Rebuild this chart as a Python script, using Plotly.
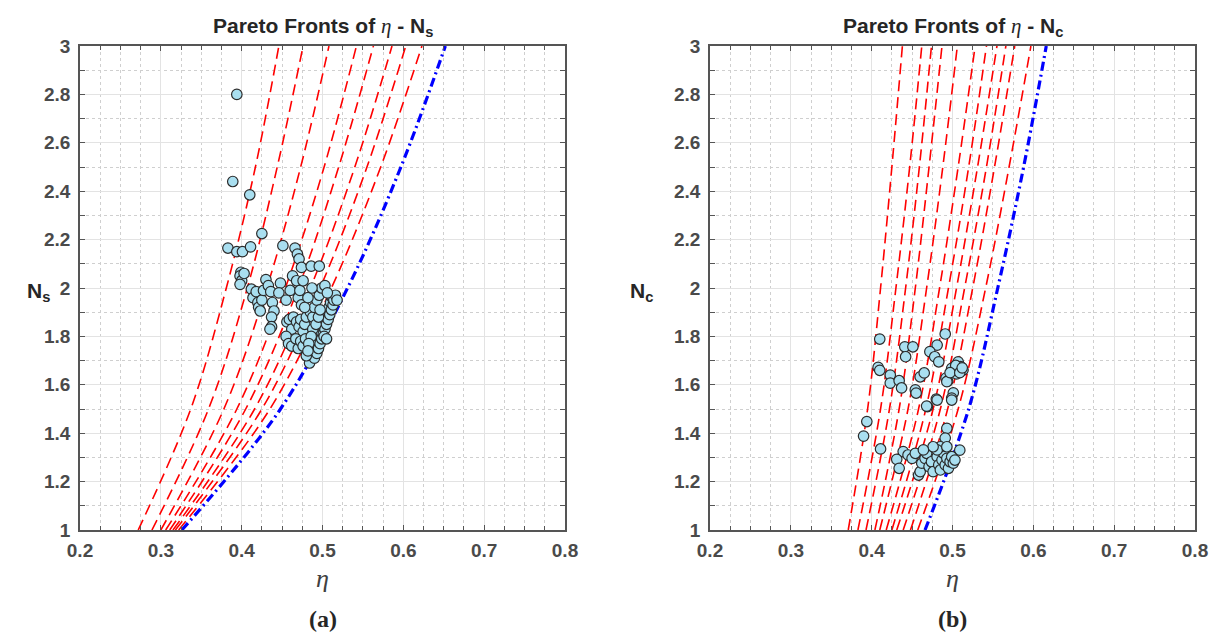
import plotly.graph_objects as go

# ---------------- data ----------------
CURVE_N = [1.0, 1.5, 2.0, 2.5, 3.0]

# (a) eta - Ns : red dashed fronts (eta at each CURVE_N)
fronts_a = [
    [0.272, 0.337, 0.381, 0.417, 0.446],
    [0.289, 0.359, 0.407, 0.444, 0.476],
    [0.300, 0.378, 0.431, 0.473, 0.508],
    [0.306, 0.394, 0.454, 0.502, 0.542],
    [0.311, 0.405, 0.470, 0.520, 0.563],
    [0.315, 0.416, 0.485, 0.540, 0.586],
    [0.318, 0.425, 0.497, 0.555, 0.603],
    [0.322, 0.435, 0.511, 0.572, 0.623],
]
blue_a = [0.326, 0.448, 0.531, 0.597, 0.652]

eta_a = [0.394, 0.389, 0.410, 0.383, 0.394, 0.401, 0.411, 0.425, 0.399, 0.398, 0.400, 0.398, 0.403,
         0.412, 0.414, 0.418, 0.420, 0.421, 0.423, 0.425, 0.427, 0.430, 0.433, 0.436, 0.438, 0.440, 0.437,
         0.437, 0.435, 0.448, 0.451, 0.446,
         0.466, 0.469, 0.471, 0.474, 0.486, 0.496,
         0.455, 0.460, 0.463, 0.468, 0.470, 0.472, 0.474, 0.476,
         0.456, 0.459, 0.462, 0.464, 0.468, 0.471, 0.473, 0.476, 0.478, 0.480,
         0.455, 0.458, 0.462, 0.467, 0.470, 0.473, 0.476, 0.479,
         0.484, 0.487, 0.489, 0.490, 0.492, 0.493, 0.494, 0.495, 0.496, 0.497, 0.498, 0.499, 0.500, 0.501,
         0.502, 0.503, 0.504, 0.505, 0.506, 0.507, 0.508, 0.509, 0.510, 0.511, 0.512, 0.513, 0.514, 0.516,
         0.518, 0.502, 0.505,
         0.485, 0.488, 0.490, 0.493, 0.496, 0.499, 0.503, 0.506, 0.488, 0.486, 0.483, 0.492, 0.495, 0.497,
         0.480, 0.482, 0.478, 0.482, 0.487]
ns_a = [2.80, 2.44, 2.385, 2.165, 2.15, 2.15, 2.17, 2.225, 2.065, 2.05, 2.03, 2.015, 2.06,
        1.995, 1.96, 1.985, 1.94, 1.92, 1.905, 1.95, 1.99, 2.035, 2.01, 1.985, 1.94, 1.905, 1.88,
        1.84, 1.83, 2.02, 2.175, 1.98,
        2.165, 2.14, 2.12, 2.085, 2.09, 2.09,
        1.95, 1.99, 2.05, 2.03, 1.96, 1.99, 1.93, 2.03,
        1.86, 1.87, 1.83, 1.88, 1.86, 1.84, 1.87, 1.82, 1.85, 1.88,
        1.80, 1.77, 1.76, 1.79, 1.75, 1.78, 1.76, 1.79,
        1.69, 1.72, 1.74, 1.71, 1.76, 1.73, 1.78, 1.75, 1.80, 1.77, 1.82, 1.79, 1.84, 1.81,
        1.86, 1.83, 1.88, 1.85, 1.90, 1.87, 1.92, 1.89, 1.94, 1.91, 1.96, 1.93, 1.95, 1.97,
        1.95, 1.80, 1.79,
        1.90, 1.88, 1.92, 1.95, 1.97, 2.00, 2.01, 1.98, 1.83, 1.80, 1.77, 1.85, 1.88, 1.91,
        1.72, 1.74, 1.92, 1.96, 2.00]

# (b) eta - Nc : red dashed fronts
fronts_b = [
    [0.371, 0.395, 0.411, 0.425, 0.438],
    [0.383, 0.411, 0.430, 0.447, 0.462],
    [0.393, 0.422, 0.442, 0.459, 0.474],
    [0.404, 0.434, 0.454, 0.471, 0.487],
    [0.410, 0.445, 0.468, 0.488, 0.506],
    [0.418, 0.458, 0.484, 0.507, 0.528],
    [0.425, 0.467, 0.495, 0.520, 0.542],
    [0.431, 0.476, 0.505, 0.531, 0.555],
    [0.439, 0.485, 0.515, 0.542, 0.566],
    [0.448, 0.494, 0.525, 0.552, 0.577],
    [0.457, 0.507, 0.541, 0.570, 0.597],
]
blue_b = [0.466, 0.520, 0.556, 0.588, 0.616]

eta_b = [0.410, 0.408, 0.410, 0.423, 0.423, 0.434, 0.437, 0.441, 0.451, 0.442, 0.454, 0.455, 0.460,
         0.465, 0.469, 0.480, 0.491, 0.481, 0.472, 0.478, 0.483, 0.492, 0.494, 0.499, 0.502, 0.507,
         0.510, 0.513, 0.505, 0.501, 0.499, 0.493, 0.504, 0.497, 0.509, 0.512,
         0.394, 0.390, 0.411, 0.468, 0.481, 0.499, 0.493, 0.491, 0.509,
         0.439, 0.431, 0.434, 0.445, 0.450, 0.454, 0.458, 0.460, 0.462, 0.466, 0.468, 0.471, 0.474,
         0.476, 0.481, 0.483, 0.485, 0.487, 0.489, 0.491, 0.493, 0.495, 0.497, 0.499, 0.501, 0.503,
         0.485, 0.481, 0.476, 0.464, 0.493]
nc_b = [1.789, 1.672, 1.660, 1.640, 1.607, 1.617, 1.587, 1.757, 1.757, 1.716, 1.579, 1.566, 1.633,
        1.649, 1.510, 1.541, 1.810, 1.764, 1.737, 1.716, 1.695, 1.628, 1.615, 1.668, 1.655, 1.695,
        1.675, 1.661, 1.645, 1.567, 1.545, 1.613, 1.680, 1.650, 1.650, 1.670,
        1.448, 1.388, 1.335, 1.512, 1.537, 1.537, 1.420, 1.380, 1.330,
        1.324, 1.292, 1.255, 1.310, 1.296, 1.317, 1.227, 1.241, 1.276, 1.296, 1.317, 1.262, 1.282,
        1.241, 1.303, 1.269, 1.248, 1.289, 1.317, 1.269, 1.296, 1.255, 1.282, 1.303, 1.276, 1.289,
        1.344, 1.331, 1.344, 1.331, 1.344]

X_TICKS = [0.2, 0.3, 0.4, 0.5, 0.6, 0.7, 0.8]
Y_TICKS = [1, 1.2, 1.4, 1.6, 1.8, 2, 2.2, 2.4, 2.6, 2.8, 3]

# ---------------- styles ----------------
RED_DASH = "11px,6px"
BLUE_DASHDOT = "9px,4px,2px,4px"
FACE = "#a9dff0"
EDGE = "#2b2b2b"
AX_COL = "#555555"
TICK_FONT = dict(family="Liberation Sans, Arial", size=19, color="#4a4a4a", weight="bold")
SERIF = "Liberation Serif, Times New Roman"

fig = go.Figure()


def add_panel(fronts, blue, eta, nvals, xa, ya):
    for f in fronts:
        fig.add_trace(go.Scatter(x=f, y=CURVE_N, mode="lines", xaxis=xa, yaxis=ya,
                                 line=dict(color="red", width=1.6, dash=RED_DASH, shape="spline"),
                                 showlegend=False, hoverinfo="skip"))
    fig.add_trace(go.Scatter(x=blue, y=CURVE_N, mode="lines", xaxis=xa, yaxis=ya,
                             line=dict(color="#0000ff", width=3.2, dash=BLUE_DASHDOT, shape="spline"),
                             showlegend=False, hoverinfo="skip"))
    fig.add_trace(go.Scatter(x=eta, y=nvals, mode="markers", xaxis=xa, yaxis=ya,
                             marker=dict(size=10.5, color=FACE, line=dict(color=EDGE, width=1.2)),
                             showlegend=False))


add_panel(fronts_a, blue_a, eta_a, ns_a, "x", "y")
add_panel(fronts_b, blue_b, eta_b, nc_b, "x2", "y2")

# page body has an 8px margin: work in screen pixels, convert to figure pixels
OFF = 8
W, H = 1219 - OFF, 639 - OFF


def fx(px):
    return (px - OFF) / W


def fy(py):
    return 1 - (py - OFF) / H


L1, R1 = fx(80), fx(565)
L2, R2 = fx(710), fx(1195)
B, T = fy(530), fy(46)


def xaxis_cfg(dom, anchor):
    return dict(domain=dom, anchor=anchor, range=[0.2, 0.8], tickvals=X_TICKS,
                ticktext=[f"{v:.1f}" for v in X_TICKS], automargin=False,
                ticks="inside", ticklen=5, tickcolor=AX_COL, tickwidth=1,
                showline=True, linecolor=AX_COL, linewidth=1.5, mirror="allticks",
                showgrid=True, gridcolor="#e3e3e3", gridwidth=1, zeroline=False,
                tickfont=TICK_FONT, ticklabelstandoff=2,
                minor=dict(dtick=0.025, tick0=0.2, ticks="inside", ticklen=4, tickcolor=AX_COL,
                           showgrid=True, gridcolor="#cfcfcf", griddash="dot", gridwidth=1))


def yaxis_cfg(dom, anchor):
    return dict(domain=dom, anchor=anchor, range=[1, 3], tickvals=Y_TICKS,
                ticktext=[f"{v:g}" for v in Y_TICKS], automargin=False,
                ticks="inside", ticklen=5, tickcolor=AX_COL, tickwidth=1,
                showline=True, linecolor=AX_COL, linewidth=1.5, mirror="allticks",
                showgrid=True, gridcolor="#e3e3e3", gridwidth=1, zeroline=False,
                tickfont=TICK_FONT, ticklabelstandoff=4,
                minor=dict(dtick=0.1, tick0=1, ticks="inside", ticklen=5, tickcolor=AX_COL,
                           showgrid=True, gridcolor="#cfcfcf", griddash="dot", gridwidth=1))


fig.update_layout(
    width=W, height=H, margin=dict(l=0, r=0, t=0, b=0),
    paper_bgcolor="white", plot_bgcolor="white",
    xaxis=xaxis_cfg([L1, R1], "y"), yaxis=yaxis_cfg([B, T], "x"),
    xaxis2=xaxis_cfg([L2, R2], "y2"), yaxis2=yaxis_cfg([B, T], "x2"),
)

ETA = f"<span style=\"font-family:{SERIF};font-style:italic;font-weight:normal\">η</span>"
TITLE_FONT = dict(family="Liberation Sans, Arial", size=21, color="#262626", weight="bold")


def ann(text, xpx, ypx, font, **kw):
    fig.add_annotation(text=text, x=fx(xpx), y=fy(ypx), xref="paper", yref="paper",
                       showarrow=False, font=font, xanchor="center", yanchor="middle", **kw)


for cx, sub, lab in [((80 + 565) / 2, "s", "(a)"), ((710 + 1195) / 2, "c", "(b)")]:
    ann(f"Pareto Fronts of {ETA} - N<sub>{sub}</sub>", cx, 27, TITLE_FONT)
    ann(ETA, cx, 578, dict(family=SERIF, size=26, color="#404040"))
    ann(lab, cx, 619, dict(family=SERIF, size=24, color="#262626", weight="bold"))

ann("N<sub>s</sub>", 38, 292, dict(family="Liberation Sans, Arial", size=21, color="#262626", weight="bold"))
ann("N<sub>c</sub>", 642, 292, dict(family="Liberation Sans, Arial", size=21, color="#262626", weight="bold"))

fig.write_html("out.html")
